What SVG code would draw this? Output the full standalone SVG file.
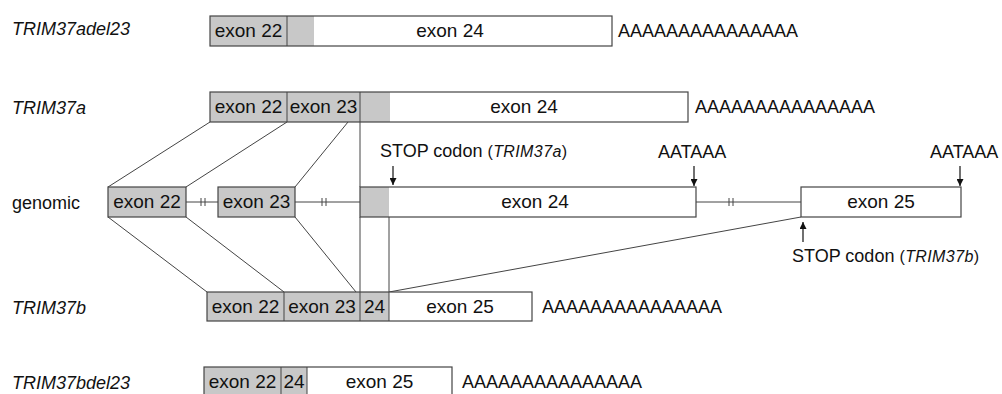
<svg xmlns="http://www.w3.org/2000/svg" width="1002" height="394" viewBox="0 0 1002 394">
<style>
text{font-family:"Liberation Sans",Arial,sans-serif;font-size:18px;fill:#111}
.lab{font-style:italic}
.c{text-anchor:middle;font-size:19px}
.sm{font-size:16px;letter-spacing:0.4px}
.it{font-style:italic}
.g{fill:#c8c8c8;stroke:none}
.w{fill:#fff;stroke:none}
.b{fill:none;stroke:#444;stroke-width:1.2}
.ln{stroke:#444;stroke-width:1;fill:none}
.ar{stroke:#111;stroke-width:1.2;fill:none;marker-end:url(#ah)}
</style>
<defs>
<marker id="ah" viewBox="0 0 10 10" refX="10" refY="5" markerWidth="7" markerHeight="7" markerUnits="userSpaceOnUse" orient="auto"><path d="M0,0 L10,5 L0,10 z" fill="#111"/></marker>
</defs>

<g id="connectors">
<line class="ln" x1="210" y1="122" x2="108" y2="187"/>
<line class="ln" x1="287" y1="122" x2="186" y2="187"/>
<line class="ln" x1="348" y1="122" x2="295" y2="187"/>
<line class="ln" x1="360" y1="122" x2="360" y2="187"/>
<line class="ln" x1="108" y1="217" x2="207" y2="292"/>
<line class="ln" x1="186" y1="217" x2="284" y2="292"/>
<line class="ln" x1="295" y1="217" x2="356" y2="292"/>
<line class="ln" x1="360" y1="217" x2="360" y2="292"/>
<line class="ln" x1="389" y1="217" x2="389" y2="292"/>
<line class="ln" x1="389" y1="292" x2="801" y2="217"/>
<line class="ln" x1="186" y1="202" x2="218" y2="202"/>
<line class="ln" x1="201" y1="198" x2="201" y2="206"/>
<line class="ln" x1="205" y1="198" x2="205" y2="206"/>
<line class="ln" x1="295" y1="202" x2="360" y2="202"/>
<line class="ln" x1="322" y1="198" x2="322" y2="206"/>
<line class="ln" x1="326" y1="198" x2="326" y2="206"/>
<line class="ln" x1="696" y1="202" x2="801" y2="202"/>
<line class="ln" x1="729" y1="198" x2="729" y2="206"/>
<line class="ln" x1="733" y1="198" x2="733" y2="206"/>
<line class="ar" x1="393" y1="166" x2="393" y2="185"/>
<line class="ar" x1="694" y1="166" x2="694" y2="186"/>
<line class="ar" x1="960" y1="166" x2="960" y2="186"/>
<line class="ar" x1="803" y1="242" x2="803" y2="222"/>
</g>

<g id="row-TRIM37adel23">
<text class="lab" x="12" y="35">TRIM37adel23</text>
<rect class="g" x="210" y="16" width="104" height="30"/>
<rect class="w" x="314" y="16" width="298" height="30"/>
<rect class="b" x="210" y="16" width="402" height="30"/>
<line class="ln" x1="287" y1="16" x2="287" y2="46"/>
<text class="c" x="248.5" y="37">exon 22</text>
<text class="c" x="450" y="37">exon 24</text>
<text x="618" y="37">AAAAAAAAAAAAAAA</text>
</g>

<g id="row-TRIM37a">
<text class="lab" x="12" y="114">TRIM37a</text>
<rect class="g" x="210" y="92" width="180" height="30"/>
<rect class="w" x="390" y="92" width="298" height="30"/>
<rect class="b" x="210" y="92" width="478" height="30"/>
<line class="ln" x1="287" y1="92" x2="287" y2="122"/>
<line class="ln" x1="360" y1="92" x2="360" y2="122"/>
<text class="c" x="248.5" y="113">exon 22</text>
<text class="c" x="323.5" y="113">exon 23</text>
<text class="c" x="524" y="113">exon 24</text>
<text x="695" y="113">AAAAAAAAAAAAAAA</text>
</g>

<g id="row-genomic">
<text x="12" y="209">genomic</text>
<rect class="g" x="108" y="187" width="78" height="30"/>
<rect class="b" x="108" y="187" width="78" height="30"/>
<text class="c" x="147" y="208">exon 22</text>
<rect class="g" x="218" y="187" width="77" height="30"/>
<rect class="b" x="218" y="187" width="77" height="30"/>
<text class="c" x="256.5" y="208">exon 23</text>
<rect class="g" x="360" y="187" width="29" height="30"/>
<rect class="w" x="389" y="187" width="307" height="30"/>
<rect class="b" x="360" y="187" width="336" height="30"/>
<text class="c" x="535" y="208">exon 24</text>
<rect class="w" x="801" y="187" width="160" height="30"/>
<rect class="b" x="801" y="187" width="160" height="30"/>
<text class="c" x="881" y="208">exon 25</text>
<text x="380" y="157">STOP codon <tspan class="sm">(<tspan class="it">TRIM37a</tspan>)</tspan></text>
<text x="658" y="158">AATAAA</text>
<text x="930" y="158">AATAAA</text>
<text x="792" y="262">STOP codon <tspan class="sm">(<tspan class="it">TRIM37b</tspan>)</tspan></text>
</g>

<g id="row-TRIM37b">
<text class="lab" x="12" y="314">TRIM37b</text>
<rect class="g" x="207" y="292" width="182" height="29"/>
<rect class="w" x="389" y="292" width="143" height="29"/>
<rect class="b" x="207" y="292" width="325" height="29"/>
<line class="ln" x1="284" y1="292" x2="284" y2="321"/>
<line class="ln" x1="360" y1="292" x2="360" y2="321"/>
<line class="ln" x1="389" y1="292" x2="389" y2="321"/>
<text class="c" x="245.5" y="313">exon 22</text>
<text class="c" x="322" y="313">exon 23</text>
<text class="c" x="374.5" y="313">24</text>
<text class="c" x="460" y="313">exon 25</text>
<text x="542" y="313">AAAAAAAAAAAAAAA</text>
</g>

<g id="row-TRIM37bdel23">
<text class="lab" x="12" y="389">TRIM37bdel23</text>
<rect class="g" x="204" y="367" width="103" height="30"/>
<rect class="w" x="307" y="367" width="145" height="30"/>
<rect class="b" x="204" y="367" width="248" height="30"/>
<line class="ln" x1="281" y1="367" x2="281" y2="397"/>
<line class="ln" x1="307" y1="367" x2="307" y2="397"/>
<text class="c" x="242.5" y="388">exon 22</text>
<text class="c" x="294" y="388">24</text>
<text class="c" x="379.5" y="388">exon 25</text>
<text x="462" y="388">AAAAAAAAAAAAAAA</text>
</g>
</svg>
